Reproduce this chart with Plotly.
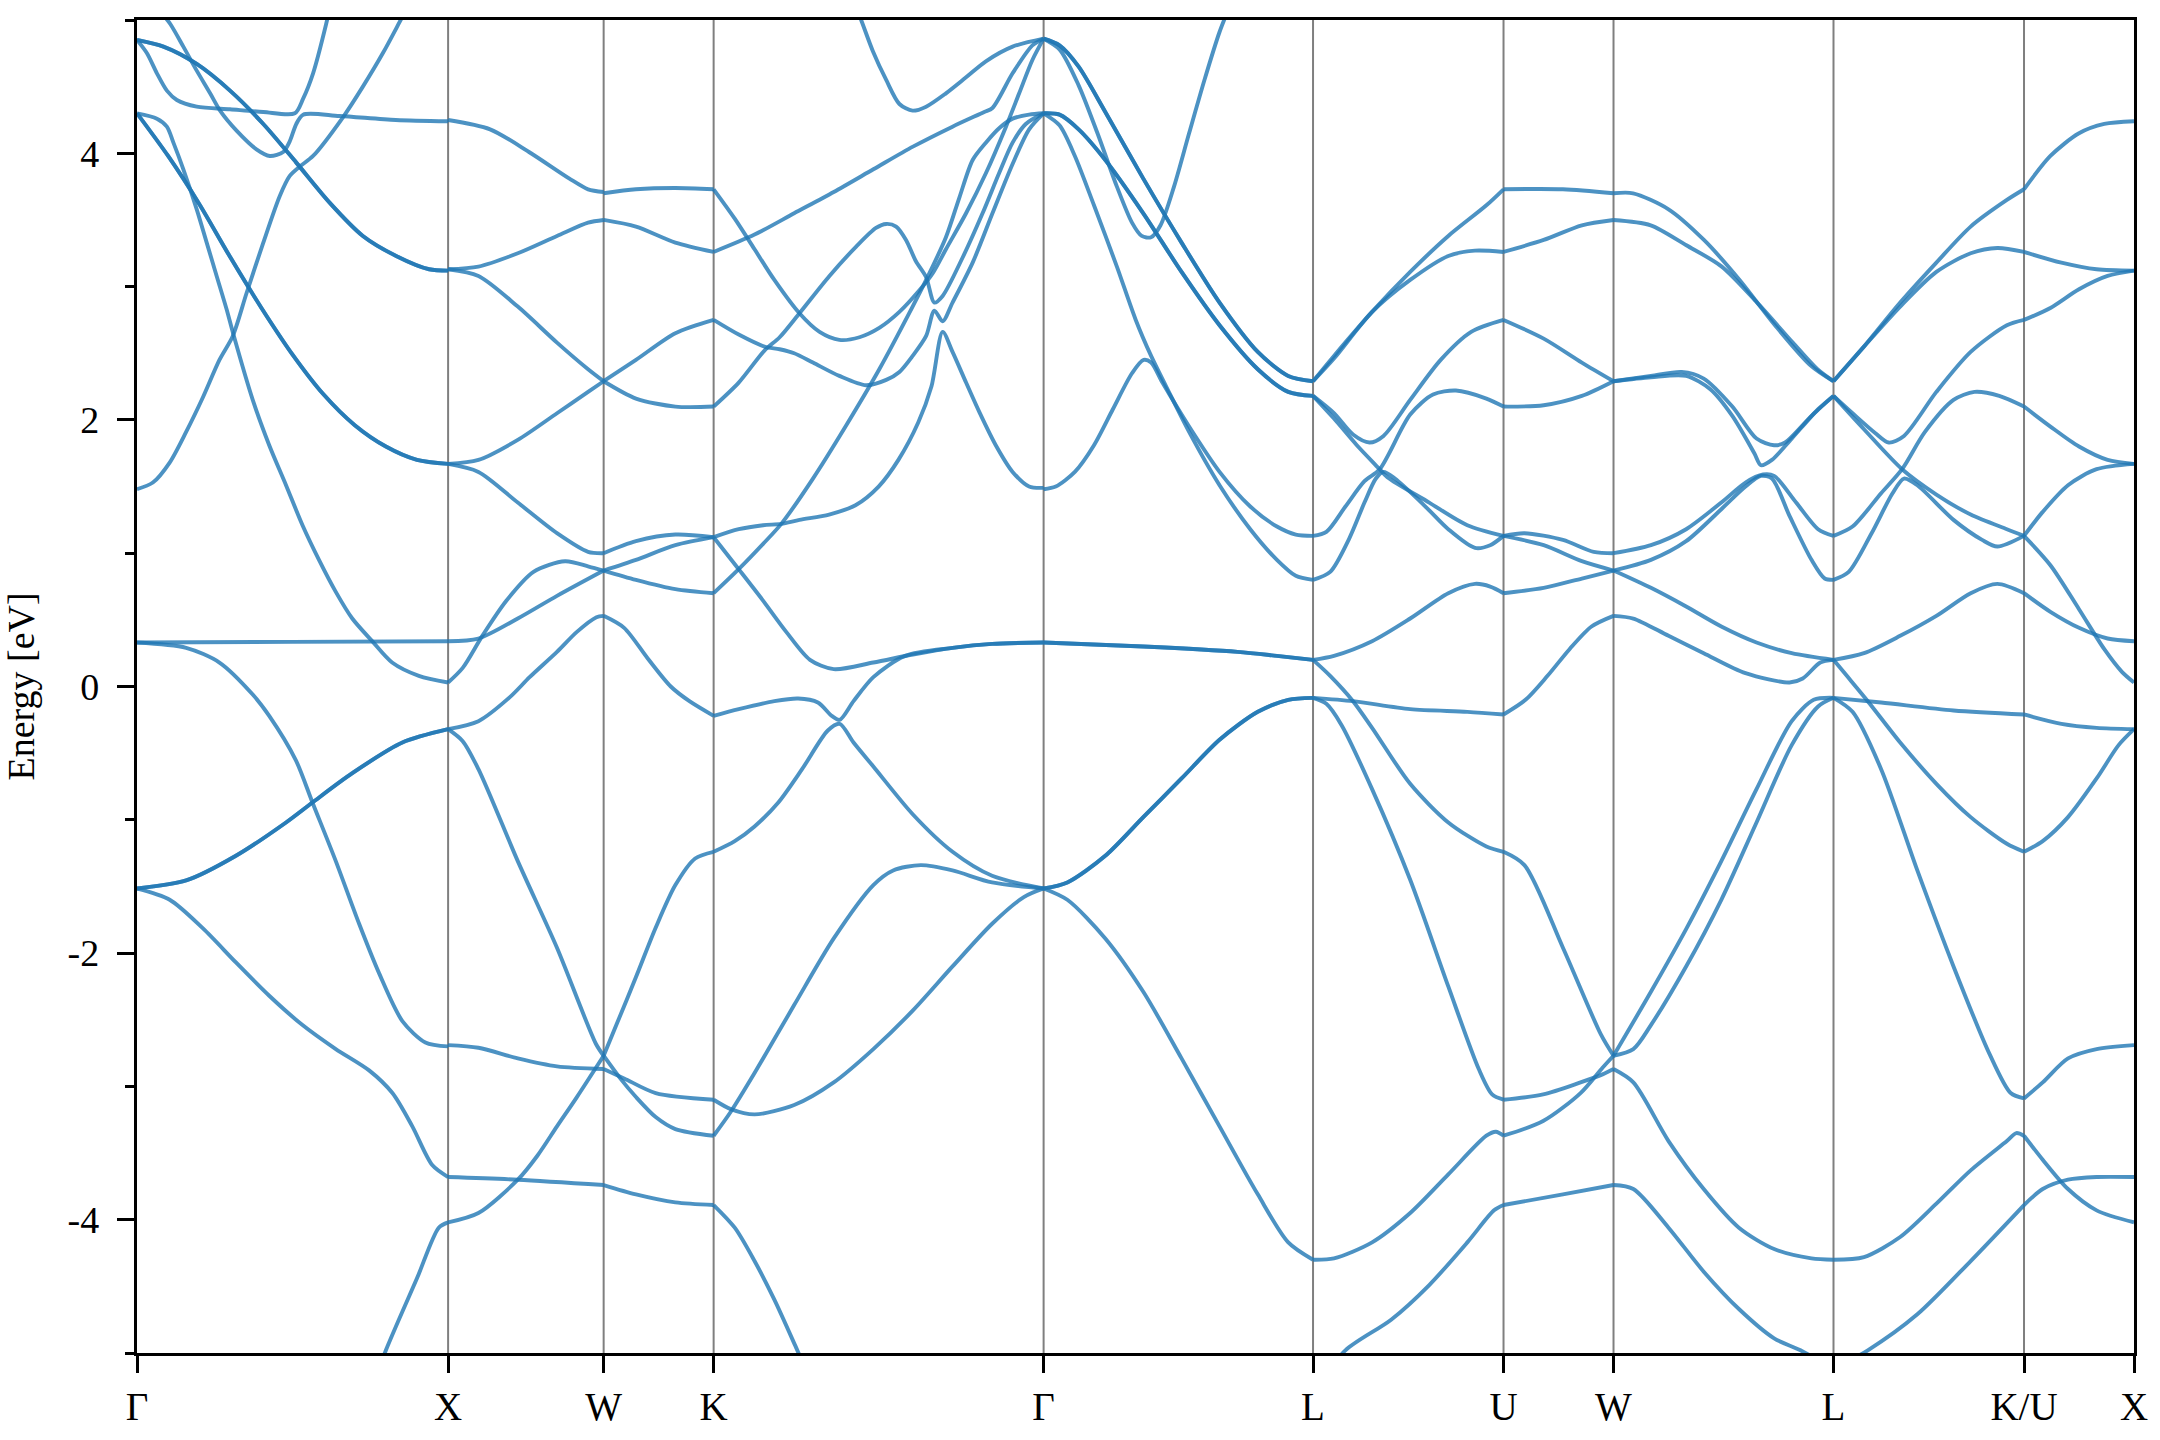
import numpy as np
import plotly.graph_objects as go

# high-symmetry path (fcc), segment lengths in units of 2*pi/a
kpoint_labels = ["Γ", "X", "W", "K", "Γ", "L", "U", "W", "L", "K/U", "X"]
segment_lengths = [1.0, 0.5, 0.35355, 1.06066, 0.86603, 0.61237, 0.35355, 0.70711, 0.61237, 0.35355]

# bands per segment: list of (fraction along segment, energy in eV)
gamma_x = [
    [(0, 4.85), (.085, 4.80), (.192, 4.67), (.299, 4.47), (.406, 4.22), (.512, 3.93), (.619, 3.63), (.726, 3.38), (.833, 3.23), (.939, 3.13), (1, 3.12)],
    [(0, 4.85), (.032, 4.75), (.064, 4.60), (.096, 4.47), (.128, 4.40), (.192, 4.35), (.299, 4.33), (.406, 4.31), (.507, 4.30), (.534, 4.41), (.566, 4.60), (.608, 4.97), (.63, 5.2)],
    [(.08, 5.05), (.107, 4.97), (.149, 4.80), (.192, 4.62), (.235, 4.45), (.267, 4.32), (.32, 4.17), (.384, 4.03), (.427, 3.98), (.47, 4.01), (.491, 4.09), (.512, 4.22), (.534, 4.29), (.651, 4.28), (.832, 4.25), (1, 4.24)],
    [(0, 4.30), (.1, 3.98), (.2, 3.62), (.3, 3.22), (.4, 2.84), (.5, 2.49), (.6, 2.19), (.7, 1.96), (.8, 1.80), (.9, 1.70), (1, 1.67)],
    [(0, 4.30), (.064, 4.26), (.096, 4.20), (.117, 4.08), (.149, 3.88), (.192, 3.58), (.224, 3.33), (.256, 3.08), (.288, 2.83), (.31, 2.64), (.372, 2.15), (.425, 1.81), (.479, 1.51), (.532, 1.21), (.585, 0.95), (.639, 0.71), (.692, 0.51), (.756, 0.34), (.82, 0.18), (.906, 0.08), (1, 0.03)],
    [(0, 1.48), (.051, 1.53), (.105, 1.68), (.158, 1.91), (.212, 2.17), (.265, 2.45), (.308, 2.63), (.352, 2.95), (.406, 3.33), (.459, 3.68), (.491, 3.83), (.523, 3.90), (.566, 3.98), (.662, 4.27), (.726, 4.50), (.79, 4.75), (.843, 4.98), (.87, 5.1)],
    [(0, .33), (.5, .335), (1, .34)],
    [(0, .33), (.158, .29), (.265, .18), (.372, -.06), (.425, -.22), (.51, -.55), (.564, -.87), (.639, -1.31), (.714, -1.78), (.778, -2.15), (.853, -2.51), (.927, -2.67), (1, -2.70)],
    [(0, -1.515), (.158, -1.455), (.318, -1.27), (.479, -1.02), (.564, -.87), (.692, -.65), (.853, -.42), (1, -.32)],
    [(0, -1.515), (.105, -1.60), (.212, -1.815), (.318, -2.07), (.425, -2.32), (.532, -2.54), (.639, -2.72), (.746, -2.88), (.821, -3.05), (.885, -3.30), (.949, -3.59), (1, -3.68)],
    [(.7, -5.6), (.8, -4.98), (.9, -4.44), (.97, -4.06), (1, -4.02)],
]
gamma_x_deg = [0, 3, 8]

x_w = [
    [(0, 4.25), (.27, 4.18), (.52, 4.01), (.78, 3.81), (.9, 3.73), (1, 3.71)],
    [(0, 3.13), (.195, 3.15), (.448, 3.25), (.7, 3.38), (.9, 3.48), (1, 3.50)],
    [(0, 3.13), (.195, 3.08), (.448, 2.85), (.7, 2.58), (.9, 2.38), (1, 2.29)],
    [(0, 1.67), (.195, 1.70), (.448, 1.85), (.7, 2.05), (.9, 2.21), (1, 2.29)],
    [(0, 1.67), (.195, 1.61), (.448, 1.38), (.7, 1.15), (.9, 1.01), (1, 1.0)],
    [(0, .34), (.195, .36), (.448, .51), (.7, .68), (1, .87)],
    [(0, .03), (.094, .14), (.22, .38), (.372, .64), (.549, .86), (.752, .94), (.904, .90), (1, .87)],
    [(0, -.32), (.195, -.26), (.397, -.08), (.524, .07), (.70, .26), (.828, .41), (.954, .52), (1, .53)],
    [(0, -.32), (.094, -.41), (.195, -.62), (.448, -1.31), (.70, -1.96), (.95, -2.68), (1, -2.77)],
    [(0, -2.69), (.195, -2.71), (.448, -2.79), (.70, -2.85), (1, -2.87)],
    [(0, -3.68), (.448, -3.70), (1, -3.74)],
    [(0, -4.02), (.195, -3.95), (.448, -3.70), (.574, -3.52), (.70, -3.30), (.828, -3.08), (1, -2.77)],
]
x_w_deg = []

w_k = [
    [(0, 3.70), (.294, 3.73), (.652, 3.74), (1, 3.73)],
    [(0, 3.50), (.294, 3.45), (.652, 3.33), (1, 3.26)],
    [(0, 2.29), (.294, 2.45), (.652, 2.65), (1, 2.75)],
    [(0, 2.29), (.294, 2.16), (.652, 2.10), (1, 2.10)],
    [(0, 1.0), (.294, 1.09), (.652, 1.14), (1, 1.12)],
    [(0, .87), (.294, .95), (.652, 1.06), (1, 1.12)],
    [(0, .87), (.294, .80), (.652, .73), (1, .70)],
    [(0, .53), (.186, .44), (.401, .21), (.61, 0.0), (.78, -.11), (1, -.22)],
    [(0, -2.77), (.115, -2.54), (.294, -2.18), (.473, -1.81), (.652, -1.49), (.832, -1.29), (1, -1.24)],
    [(0, -2.77), (.151, -2.94), (.294, -3.08), (.473, -3.23), (.652, -3.32), (1, -3.37)],
    [(0, -2.87), (.186, -2.94), (.473, -3.05), (1, -3.10)],
    [(0, -3.74), (.294, -3.81), (.652, -3.87), (1, -3.89)],
]
w_k_deg = []

k_gamma = [
    [(0, 3.73), (.064, 3.51), (.124, 3.28), (.184, 3.05), (.26, 2.80), (.321, 2.66), (.381, 2.60), (.442, 2.62), (.502, 2.69), (.563, 2.81), (.623, 2.97), (.664, 3.10), (.704, 3.28), (.765, 3.55), (.825, 3.85), (.886, 4.20), (.926, 4.45), (.966, 4.70), (1, 4.86)],
    [(0, 3.26), (.124, 3.39), (.244, 3.55), (.364, 3.71), (.484, 3.88), (.604, 4.05), (.724, 4.20), (.82, 4.31), (.845, 4.34), (.906, 4.60), (.966, 4.81), (1, 4.86)],
    [(.43, 5.1), (.447, 5.0), (.482, 4.77), (.523, 4.55), (.563, 4.37), (.603, 4.32), (.644, 4.35), (.704, 4.45), (.765, 4.57), (.825, 4.69), (.906, 4.80), (1, 4.86)],
    [(0, 2.10), (.076, 2.28), (.154, 2.52), (.2, 2.62), (.26, 2.80), (.351, 3.08), (.432, 3.30), (.492, 3.44), (.523, 3.47), (.553, 3.45), (.583, 3.35), (.613, 3.19), (.644, 3.07), (.669, 2.88), (.694, 2.93), (.755, 3.22), (.815, 3.55), (.865, 3.85), (.906, 4.08), (.946, 4.22), (1, 4.30)],
    [(0, 2.75), (.076, 2.64), (.154, 2.55), (.2, 2.53), (.244, 2.50), (.301, 2.43), (.381, 2.33), (.462, 2.26), (.523, 2.30), (.563, 2.36), (.603, 2.48), (.644, 2.63), (.669, 2.82), (.694, 2.74), (.724, 2.88), (.785, 3.18), (.845, 3.55), (.906, 3.92), (.956, 4.18), (1, 4.30)],
    [(0, .70), (.076, .88), (.15, 1.07), (.205, 1.22), (.301, 1.56), (.402, 1.96), (.502, 2.38), (.603, 2.85), (.644, 3.05), (.704, 3.37), (.745, 3.67), (.785, 3.95), (.825, 4.08), (.866, 4.19), (.906, 4.26), (.956, 4.29), (1, 4.30)],
    [(0, 1.12), (.076, 1.18), (.15, 1.21), (.205, 1.22), (.26, 1.25), (.35, 1.29), (.43, 1.36), (.5, 1.50), (.56, 1.70), (.62, 1.98), (.66, 2.25), (.694, 2.66), (.724, 2.51), (.765, 2.28), (.805, 2.06), (.855, 1.81), (.906, 1.61), (.956, 1.50), (1, 1.49)],
    [(0, 1.12), (.076, .88), (.148, .65), (.22, .41), (.292, .20), (.364, .13), (.484, .18), (.604, .24), (.724, .29), (.844, .32), (1, .33)],
    [(0, -.22), (.076, -.17), (.184, -.11), (.256, -.09), (.316, -.12), (.358, -.22), (.382, -.25), (.424, -.11), (.484, .07), (.58, .23), (.724, .29), (.844, .32), (1, .33)],
    [(0, -1.24), (.064, -1.16), (.124, -1.05), (.196, -.87), (.268, -.62), (.346, -.33), (.382, -.28), (.424, -.42), (.484, -.60), (.604, -.96), (.724, -1.24), (.844, -1.42), (1, -1.515)],
    [(0, -3.37), (.052, -3.19), (.124, -2.90), (.244, -2.39), (.364, -1.89), (.484, -1.49), (.544, -1.38), (.628, -1.34), (.724, -1.38), (.844, -1.47), (1, -1.515)],
    [(0, -3.10), (.052, -3.17), (.124, -3.21), (.244, -3.14), (.364, -2.97), (.484, -2.72), (.604, -2.43), (.724, -2.10), (.844, -1.78), (.94, -1.58), (1, -1.515)],
    [(0, -3.89), (.064, -4.06), (.124, -4.31), (.184, -4.60), (.25, -4.96), (.316, -5.33)],
]
k_gamma_deg = []

gamma_l = [
    [(0, 4.86), (.059, 4.81), (.13, 4.65), (.229, 4.31), (.37, 3.81), (.512, 3.33), (.653, 2.88), (.795, 2.51), (.908, 2.33), (1, 2.29)],
    [(0, 4.30), (.059, 4.29), (.13, 4.18), (.229, 3.95), (.37, 3.55), (.512, 3.11), (.653, 2.71), (.795, 2.38), (.908, 2.21), (1, 2.18)],
    [(0, 4.86), (.059, 4.78), (.13, 4.51), (.2, 4.15), (.272, 3.75), (.328, 3.48), (.364, 3.38), (.399, 3.37), (.434, 3.46), (.484, 3.75), (.54, 4.15), (.597, 4.55), (.653, 4.91), (.69, 5.1)],
    [(0, 4.30), (.059, 4.21), (.116, 3.98), (.187, 3.61), (.272, 3.15), (.342, 2.75), (.399, 2.48), (.455, 2.25), (.54, 1.91), (.653, 1.51), (.767, 1.18), (.866, .95), (.936, .83), (1, .80)],
    [(0, 1.48), (.045, 1.50), (.116, 1.61), (.187, 1.81), (.257, 2.08), (.328, 2.35), (.371, 2.45), (.399, 2.43), (.441, 2.28), (.54, 1.95), (.653, 1.61), (.767, 1.35), (.866, 1.20), (.936, 1.14), (1, 1.13)],
    [(0, .33), (.37, .30), (.72, .26), (.866, .23), (1, .20)],
    [(0, -1.515), (.088, -1.47), (.229, -1.27), (.37, -.98), (.512, -.69), (.653, -.40), (.795, -.19), (.908, -.10), (1, -.085)],
    [(0, -1.515), (.088, -1.60), (.229, -1.89), (.37, -2.29), (.512, -2.79), (.653, -3.30), (.795, -3.81), (.908, -4.17), (1, -4.30)],
]
gamma_l_deg = [0, 1, 5, 6]

l_u = [
    [(0, 2.29), (.11, 2.48), (.31, 2.81), (.51, 3.11), (.71, 3.38), (.91, 3.61), (1, 3.73)],
    [(0, 2.29), (.11, 2.46), (.31, 2.81), (.51, 3.05), (.71, 3.23), (.85, 3.27), (1, 3.26)],
    [(0, 2.18), (.11, 2.05), (.21, 1.89), (.296, 1.83), (.37, 1.88), (.51, 2.15), (.67, 2.45), (.83, 2.66), (1, 2.75)],
    [(0, 2.18), (.11, 2.01), (.23, 1.81), (.35, 1.63), (.39, 1.57), (.61, 1.38), (.81, 1.21), (1, 1.13)],
    [(0, .80), (.09, .86), (.19, 1.11), (.27, 1.38), (.33, 1.56), (.37, 1.61), (.43, 1.56), (.59, 1.35), (.71, 1.18), (.85, 1.04), (.93, 1.06), (1, 1.13)],
    [(0, 1.13), (.07, 1.16), (.17, 1.35), (.27, 1.54), (.35, 1.63), (.51, 2.04), (.63, 2.19), (.75, 2.22), (.91, 2.16), (1, 2.10)],
    [(0, .20), (.11, .23), (.31, .34), (.51, .51), (.71, .70), (.85, .77), (.93, .75), (1, .70)],
    [(0, .20), (.09, .08), (.21, -.11), (.31, -.31), (.51, -.73), (.71, -1.02), (.91, -1.20), (1, -1.24)],
    [(0, -.085), (.21, -.11), (.51, -.17), (.81, -.19), (1, -.21)],
    [(0, -.085), (.07, -.13), (.15, -.29), (.31, -.77), (.51, -1.45), (.71, -2.25), (.87, -2.87), (.94, -3.06), (1, -3.10)],
    [(0, -4.30), (.11, -4.29), (.31, -4.17), (.51, -3.95), (.71, -3.66), (.91, -3.37), (.96, -3.34), (1, -3.37)],
    [(0, -5.3), (.17, -4.98), (.41, -4.75), (.61, -4.49), (.81, -4.17), (.95, -3.93), (1, -3.89)],
]
l_u_deg = []

u_w = [
    [(0, 3.73), (.54, 3.73), (1, 3.70)],
    [(0, 3.26), (.365, 3.35), (.712, 3.46), (1, 3.50)],
    [(0, 2.75), (.365, 2.61), (.712, 2.43), (1, 2.29)],
    [(0, 2.10), (.365, 2.11), (.712, 2.18), (1, 2.29)],
    [(0, 1.13), (.19, 1.15), (.54, 1.10), (.82, 1.01), (1, 1.0)],
    [(0, 1.13), (.365, 1.06), (.712, .94), (1, .87)],
    [(0, .70), (.365, .74), (.712, .81), (1, .87)],
    [(0, -.21), (.2, -.10), (.4, .08), (.6, .28), (.8, .45), (1, .53)],
    [(0, -1.24), (.19, -1.34), (.54, -1.96), (.885, -2.61), (1, -2.77)],
    [(0, -3.10), (.36, -3.06), (.7, -2.97), (.9, -2.91), (1, -2.87)],
    [(0, -3.37), (.36, -3.26), (.7, -3.05), (.9, -2.86), (1, -2.77)],
    [(0, -3.89), (.54, -3.81), (1, -3.74)],
]
u_w_deg = []

w_l = [
    [(0, 3.70), (.089, 3.70), (.25, 3.58), (.411, 3.35), (.573, 3.05), (.734, 2.71), (.895, 2.41), (1, 2.29)],
    [(0, 3.50), (.169, 3.46), (.331, 3.31), (.492, 3.15), (.653, 2.88), (.815, 2.58), (.927, 2.38), (1, 2.29)],
    [(0, 2.29), (.17, 2.33), (.31, 2.36), (.41, 2.31), (.54, 2.10), (.65, 1.86), (.73, 1.81), (.78, 1.83), (.90, 2.03), (1, 2.18)],
    [(0, 2.29), (.17, 2.32), (.33, 2.33), (.44, 2.23), (.54, 2.03), (.64, 1.75), (.67, 1.66), (.72, 1.70), (.81, 1.86), (.93, 2.08), (1, 2.18)],
    [(0, 1.0), (.17, 1.06), (.33, 1.18), (.49, 1.38), (.6, 1.53), (.68, 1.59), (.73, 1.58), (.83, 1.38), (.93, 1.18), (1, 1.13)],
    [(0, .87), (.17, .95), (.33, 1.09), (.49, 1.33), (.6, 1.50), (.67, 1.58), (.72, 1.56), (.8, 1.28), (.9, .95), (.96, .81), (1, .80)],
    [(0, .87), (.17, .74), (.33, .60), (.49, .45), (.65, .33), (.81, .25), (1, .20)],
    [(0, .53), (.09, .51), (.25, .38), (.41, .25), (.6, .10), (.8, .03), (.86, .06), (.94, .18), (1, .20)],
    [(0, -2.77), (.17, -2.29), (.33, -1.82), (.49, -1.31), (.65, -.77), (.81, -.26), (.91, -.10), (1, -.085)],
    [(0, -2.77), (.09, -2.72), (.17, -2.54), (.33, -2.10), (.49, -1.60), (.65, -1.02), (.81, -.44), (.93, -.15), (1, -.085)],
    [(0, -2.87), (.09, -2.97), (.25, -3.41), (.41, -3.77), (.57, -4.06), (.73, -4.22), (.9, -4.29), (1, -4.30)],
    [(0, -3.74), (.09, -3.77), (.25, -4.06), (.41, -4.39), (.57, -4.67), (.73, -4.89), (.85, -4.98), (1, -5.12)],
]
w_l_deg = []

l_k = [
    [(0, 2.29), (.16, 2.55), (.35, 2.88), (.54, 3.18), (.72, 3.45), (.91, 3.65), (1, 3.73)],
    [(0, 2.29), (.16, 2.55), (.35, 2.85), (.54, 3.11), (.72, 3.25), (.86, 3.29), (1, 3.26)],
    [(0, 2.18), (.1, 2.05), (.22, 1.90), (.29, 1.83), (.37, 1.88), (.54, 2.21), (.72, 2.51), (.91, 2.71), (1, 2.75)],
    [(0, 2.18), (.16, 1.93), (.36, 1.63), (.54, 1.44), (.72, 1.29), (.91, 1.18), (1, 1.13)],
    [(0, 1.13), (.1, 1.20), (.25, 1.45), (.36, 1.63), (.48, 1.91), (.63, 2.15), (.74, 2.21), (.87, 2.18), (1, 2.10)],
    [(0, .80), (.08, .86), (.2, 1.15), (.31, 1.45), (.37, 1.56), (.44, 1.51), (.63, 1.25), (.78, 1.10), (.86, 1.05), (1, 1.13)],
    [(0, .20), (.16, .25), (.35, .38), (.54, .53), (.72, .70), (.86, .77), (1, .70)],
    [(0, .20), (.07, .08), (.18, -.11), (.35, -.42), (.54, -.73), (.72, -.98), (.91, -1.18), (1, -1.24)],
    [(0, -.085), (.25, -.12), (.63, -.18), (1, -.21)],
    [(0, -.085), (.1, -.19), (.25, -.62), (.44, -1.38), (.63, -2.10), (.82, -2.76), (.93, -3.05), (1, -3.09)],
    [(0, -4.30), (.16, -4.28), (.35, -4.13), (.54, -3.88), (.72, -3.63), (.91, -3.41), (.96, -3.35), (1, -3.37)],
    [(0, -5.12), (.18, -4.98), (.44, -4.71), (.72, -4.31), (1, -3.89)],
]
l_k_deg = []

u_x = [
    [(0, 3.73), (.24, 3.98), (.5, 4.15), (.73, 4.22), (1, 4.24)],
    [(0, 3.26), (.34, 3.18), (.66, 3.13), (1, 3.12)],
    [(0, 2.75), (.24, 2.84), (.5, 2.98), (.76, 3.08), (1, 3.12)],
    [(0, 2.10), (.24, 1.95), (.5, 1.80), (.76, 1.70), (1, 1.67)],
    [(0, 1.13), (.17, 1.31), (.4, 1.51), (.66, 1.63), (1, 1.67)],
    [(0, 1.13), (.24, .91), (.5, .58), (.73, .28), (.89, .11), (1, .03)],
    [(0, .70), (.24, .56), (.5, .44), (.76, .36), (1, .34)],
    [(0, -.21), (.34, -.28), (.66, -.31), (1, -.32)],
    [(0, -1.24), (.17, -1.16), (.4, -.98), (.66, -.69), (.86, -.44), (1, -.32)],
    [(0, -3.09), (.17, -2.97), (.4, -2.79), (.66, -2.72), (1, -2.69)],
    [(0, -3.37), (.17, -3.55), (.4, -3.77), (.66, -3.93), (1, -4.02)],
    [(0, -3.89), (.17, -3.77), (.4, -3.70), (.66, -3.68), (1, -3.68)],
]
u_x_deg = []

segments = [
    (gamma_x, gamma_x_deg), (x_w, x_w_deg), (w_k, w_k_deg), (k_gamma, k_gamma_deg),
    (gamma_l, gamma_l_deg), (l_u, l_u_deg), (u_w, u_w_deg), (w_l, w_l_deg),
    (l_k, l_k_deg), (u_x, u_x_deg),
]

kpos = np.concatenate([[0.0], np.cumsum(segment_lengths)])

BAND_COLOR = "rgba(31,119,180,0.8)"
FONT = "Liberation Serif, Times New Roman, serif"

fig = go.Figure()

for i, (bands, deg) in enumerate(segments):
    k0, seg_len = kpos[i], segment_lengths[i]
    for j, band in enumerate(bands):
        ts = np.array([p[0] for p in band])
        es = [p[1] for p in band]
        xs = k0 + ts * seg_len
        # degenerate pairs are drawn twice, as two overlapping bands
        for _ in range(2 if j in deg else 1):
            fig.add_trace(
                go.Scatter(
                    x=xs,
                    y=es,
                    mode="lines",
                    line=dict(color=BAND_COLOR, width=3.9, shape="spline", smoothing=0.8),
                    hoverinfo="skip",
                    showlegend=False,
                )
            )

for k in kpos[1:-1]:
    fig.add_shape(
        type="line", x0=k, x1=k, y0=0, y1=1, xref="x", yref="paper",
        line=dict(color="rgba(0,0,0,0.5)", width=2), layer="below",
    )

fig.update_layout(
    width=2160,
    height=1440,
    margin=dict(l=137, r=24, t=20, b=84),
    plot_bgcolor="white",
    paper_bgcolor="white",
    font=dict(family=FONT, size=38, color="black"),
    xaxis=dict(
        range=[0, kpos[-1]],
        tickmode="array",
        tickvals=list(kpos),
        ticktext=kpoint_labels,
        ticks="outside",
        ticklen=17,
        tickwidth=3.3,
        tickcolor="black",
        ticklabelstandoff=0,
        showline=True,
        linewidth=3.3,
        linecolor="black",
        mirror=True,
        showgrid=False,
        zeroline=False,
        tickfont=dict(family=FONT, size=39),
    ),
    yaxis=dict(
        range=[-5, 5],
        tickmode="array",
        tickvals=[-4, -2, 0, 2, 4],
        ticktext=["-4", "-2", "0", "2", "4"],
        ticks="outside",
        ticklen=17,
        tickwidth=3.3,
        tickcolor="black",
        ticklabelstandoff=10,
        minor=dict(tickvals=[-5, -3, -1, 1, 3, 5], ticks="outside", ticklen=9, tickwidth=3.3, tickcolor="black"),
        showline=True,
        linewidth=3.3,
        linecolor="black",
        mirror=True,
        showgrid=False,
        zeroline=False,
        tickfont=dict(family=FONT, size=38),
        title=dict(text="Energy [eV]", font=dict(family=FONT, size=38), standoff=22),
    ),
)

# drop the default page margin so the figure fills the window exactly
fig.write_html(
    "out.html",
    config={"displayModeBar": False},
    post_script="document.body.style.margin='0';document.body.style.overflow='hidden';",
)
